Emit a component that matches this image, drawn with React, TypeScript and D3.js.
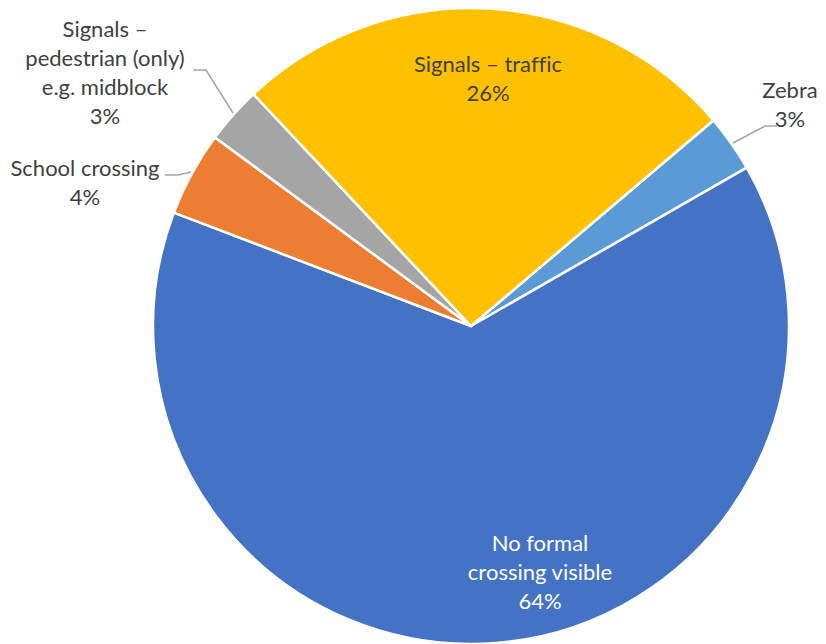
import React from "react";
import * as d3 from "d3";

const categories = [
  "Zebra",
  "No formal crossing visible",
  "School crossing",
  "Signals – pedestrian (only) e.g. midblock",
  "Signals – traffic",
];
const values = [2.9, 64.1, 4.3, 2.9, 25.8];
const labelLines = [
  ["Zebra"],
  ["No formal", "crossing visible"],
  ["School crossing"],
  ["Signals –", "pedestrian (only)", "e.g. midblock"],
  ["Signals – traffic"],
];
const colors = ["#5B9BD5", "#4472C4", "#ED7D31", "#A5A5A5", "#FFC000"];

const W = 826;
const H = 644;
const CX = 471;
const CY = 326;
const R = 318;
const START = (49.7 * Math.PI) / 180;
const FONT = 22;
const LH = 29;

const layout = [
  { x: 790, y: 90, fill: "#404040", leader: [[733, 143], [765, 126], [777, 126]] },
  { x: 540, y: 543, fill: "#ffffff", leader: null },
  { x: 85, y: 168, fill: "#404040", leader: [[191, 172], [178, 175], [165, 175]] },
  { x: 105, y: 29, fill: "#404040", leader: [[233, 113], [206, 70], [193, 70]] },
  { x: 488, y: 64, fill: "#404040", leader: null },
];

export default function App() {
  const pie = d3
    .pie<number>()
    .sort(null)
    .value((d) => d)
    .startAngle(START)
    .endAngle(START + 2 * Math.PI);
  const arcs = pie(values);
  const arc = d3.arc<d3.PieArcDatum<number>>().innerRadius(0).outerRadius(R);
  const total = d3.sum(values);
  const line = d3.line();

  return (
    <svg
      width={W}
      height={H}
      style={{ position: "absolute", left: 0, top: 0, fontFamily: "Lato, 'Open Sans', sans-serif", fontVariantLigatures: "none" }}
    >
      <rect width={W} height={H} fill="#ffffff" />
      <g transform={`translate(${CX},${CY})`}>
        {arcs.map((a, i) => (
          <path key={categories[i]} d={arc(a) || ""} fill={colors[i]} stroke="#ffffff" strokeWidth={2.5} strokeLinejoin="round" />
        ))}
      </g>
      {layout.map((l, i) =>
        l.leader ? (
          <path key={"ld" + i} d={line(l.leader as [number, number][]) || ""} fill="none" stroke="#A6A6A6" strokeWidth={1.5} />
        ) : null
      )}
      {layout.map((l, i) => {
        const lines = [...labelLines[i], `${Math.round((values[i] / total) * 100)}%`];
        return (
          <text key={"lb" + i} textAnchor="middle" fontSize={FONT} fill={l.fill}>
            {lines.map((t, j) => (
              <tspan key={j} x={l.x} y={l.y + j * LH} dy="0.35em">
                {t}
              </tspan>
            ))}
          </text>
        );
      })}
    </svg>
  );
}
